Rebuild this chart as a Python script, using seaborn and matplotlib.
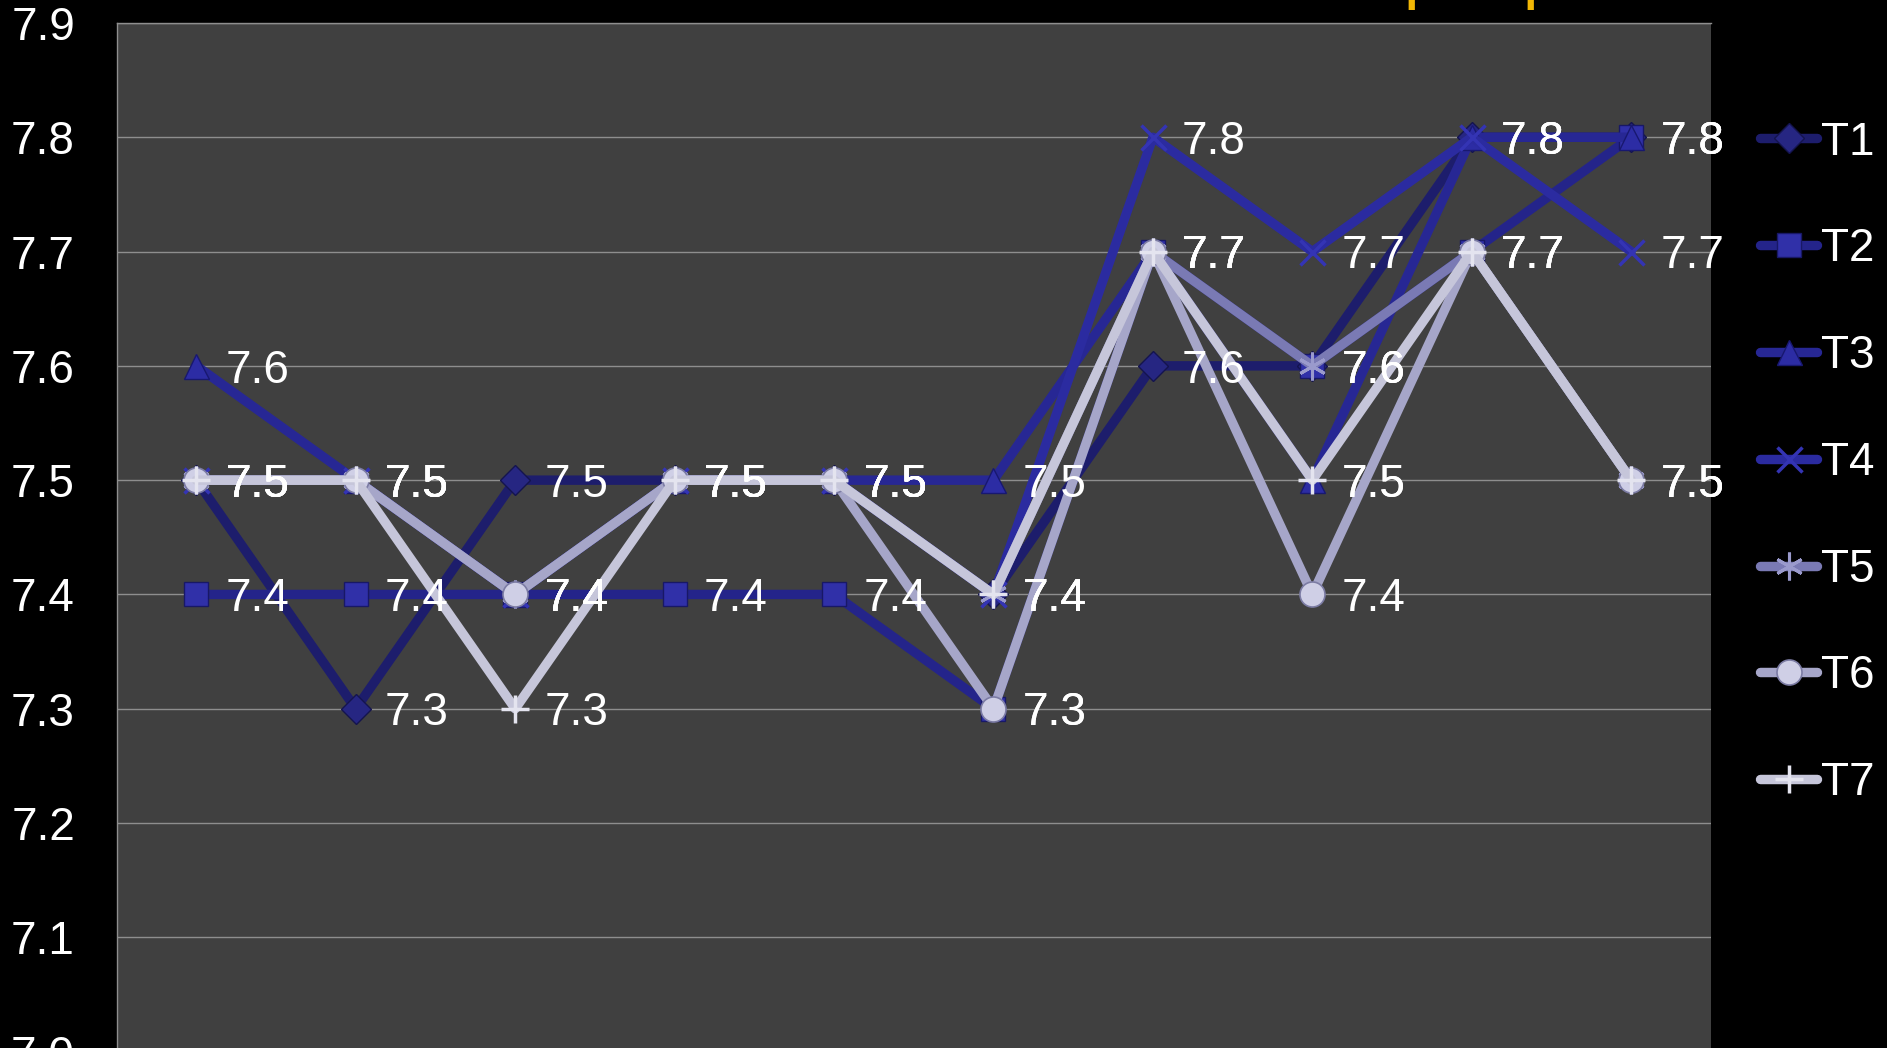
import matplotlib
matplotlib.use("Agg")
import matplotlib.pyplot as plt
import pandas as pd
import seaborn as sns

# ---- data -------------------------------------------------------------
positions = list(range(10))
series_names = ["T1", "T2", "T3", "T4", "T5", "T6", "T7"]
t1 = [7.5, 7.3, 7.5, 7.5, 7.5, 7.4, 7.6, 7.6, 7.8, 7.8]
t2 = [7.4, 7.4, 7.4, 7.4, 7.4, 7.3, 7.7, 7.6, 7.7, 7.8]
t3 = [7.6, 7.5, 7.4, 7.5, 7.5, 7.5, 7.7, 7.5, 7.8, 7.8]
t4 = [7.5, 7.5, 7.4, 7.5, 7.5, 7.4, 7.8, 7.7, 7.8, 7.7]
t5 = [7.5, 7.5, 7.4, 7.5, 7.5, 7.4, 7.7, 7.6, 7.7, 7.5]
t6 = [7.5, 7.5, 7.4, 7.5, 7.5, 7.3, 7.7, 7.4, 7.7, 7.5]
t7 = [7.5, 7.5, 7.3, 7.5, 7.5, 7.4, 7.7, 7.5, 7.7, 7.5]
y_ticks = [7.0, 7.1, 7.2, 7.3, 7.4, 7.5, 7.6, 7.7, 7.8, 7.9]

values = [t1, t2, t3, t4, t5, t6, t7]
df = pd.DataFrame(
    [(name, p, v) for name, vals in zip(series_names, values) for p, v in zip(positions, vals)],
    columns=["series", "pos", "value"],
)

# ---- styling ----------------------------------------------------------
line_colors = ["#1d1d6c", "#24248a", "#272794", "#2b2ba0", "#7a7ab4", "#a6a6c9", "#c6c6da"]
face_colors = ["#262682", "#3030a8", "#2c2ca4", "#3434b4", "#9a9acc", "#cfcfe6", "#e4e4ef"]
edge_colors = ["#14144e", "#181866", "#181870", "#3434b4", "#9a9acc", "#7c7ca4", "#e4e4ef"]
marker_styles = ["D", "s", "^", "x", (6, 2, 0), "o", "+"]
marker_sizes = [15, 17, 18, 18, 20, 18, 20]
marker_edge_widths = [1.0, 1.0, 1.0, 2.5, 2.2, 1.2, 2.5]

sns.set_style("dark")
plt.rcParams["font.family"] = ["Liberation Sans", "DejaVu Sans"]

FS = 33
fig = plt.figure(figsize=(18.87, 10.48), dpi=100, facecolor="black")
ax = fig.add_axes([0.0618, -0.0035, 0.8449, 0.9816])
ax.set_facecolor("#404040")

for name, col, fc, ec, mk, ms, mew in zip(series_names, line_colors, face_colors,
                                          edge_colors, marker_styles, marker_sizes,
                                          marker_edge_widths):
    sub = df[df["series"] == name]
    sns.lineplot(data=sub, x="pos", y="value", ax=ax, color=col, linewidth=6.8,
                 marker=mk, markersize=ms, markerfacecolor=fc, markeredgecolor=ec,
                 markeredgewidth=mew, estimator=None, sort=False, label=name,
                 solid_joinstyle="round", solid_capstyle="round")

# value labels to the right of every point
for name, vals in zip(series_names, values):
    for p, v in zip(positions, vals):
        ax.annotate(f"{v:.1f}", (p, v), xytext=(21, -12), textcoords="offset points",
                    ha="left", va="baseline", color="white", fontsize=FS, zorder=10)

ax.set_xlim(-0.5, 9.5)
ax.set_ylim(7.0, 7.9)
ax.set_yticks(y_ticks)
ax.set_yticklabels([f"{t:.1f}" for t in y_ticks])
ax.set_xticks([])
ax.set_xlabel("")
ax.set_ylabel("")
ax.tick_params(axis="y", colors="white", labelsize=FS, pad=30, length=0)
ax.grid(axis="y", color="#8e8e8e", linewidth=1.0)
ax.grid(axis="x", visible=False)
ax.set_axisbelow(True)
for side in ["right", "bottom"]:
    ax.spines[side].set_visible(False)
for side in ["left", "top"]:
    ax.spines[side].set_visible(True)
    ax.spines[side].set_color("#8e8e8e")
    ax.spines[side].set_linewidth(1.0)

handles, labels = ax.get_legend_handles_labels()
leg = fig.legend(handles, labels, loc="upper left", bbox_to_anchor=(0.9327, 0.885),
                 frameon=False, fontsize=FS, handlelength=1.25, handletextpad=0.08,
                 labelspacing=1.37, borderpad=0, borderaxespad=0)
for txt in leg.get_texts():
    txt.set_color("white")
if ax.get_legend() is not None:
    ax.get_legend().remove()

# yellow title glyphs just above the frame
for xpx in (1389, 1508):
    fig.text(xpx / 1887, 1.0, "q", color="#f2b705", fontsize=FS,
             fontweight="bold", ha="left", va="baseline")

fig.savefig("out.png", dpi=100, facecolor="black")
